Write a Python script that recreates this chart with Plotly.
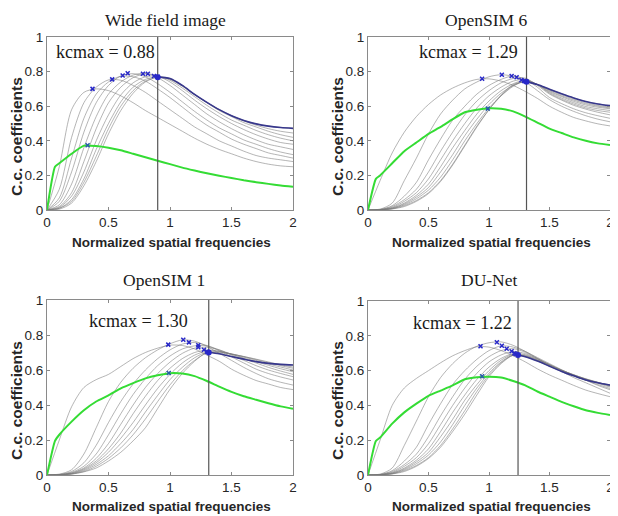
import plotly.graph_objects as go

# ---------------- data ----------------
freq = [0, 0.1, 0.2, 0.3, 0.4, 0.5, 0.6, 0.7, 0.8, 0.9, 1.0,
        1.1, 1.2, 1.3, 1.4, 1.5, 1.6, 1.7, 1.8, 1.9, 2.0]
green_freq = [0, 0.065, 0.1, 0.2, 0.3, 0.4, 0.5, 0.6, 0.7, 0.8, 0.9, 1.0,
              1.1, 1.2, 1.3, 1.4, 1.5, 1.6, 1.7, 1.8, 1.9, 2.0]

panel_titles = ["Wide field image", "OpenSIM 6", "OpenSIM 1", "DU-Net"]
kcmax_labels = ["0.88", "1.29", "1.30", "1.22"]
kcmax_line = [0.90, 1.31, 1.315, 1.24]
x_ticks = ["0", "0.5", "1", "1.5", "2"]
y_ticks = ["0", "0.2", "0.4", "0.6", "0.8", "1"]

wide_gray = [
    [0, 0.25, 0.58, 0.68, 0.70, 0.69, 0.66, 0.62, 0.575, 0.535, 0.495, 0.455, 0.415, 0.38, 0.35, 0.325, 0.30, 0.28, 0.265, 0.255, 0.25],
    [0, 0.12, 0.42, 0.62, 0.71, 0.752, 0.75, 0.72, 0.68, 0.63, 0.58, 0.53, 0.48, 0.44, 0.40, 0.37, 0.34, 0.315, 0.30, 0.29, 0.28],
    [0, 0.07, 0.30, 0.53, 0.67, 0.74, 0.773, 0.77, 0.745, 0.70, 0.65, 0.595, 0.54, 0.49, 0.45, 0.41, 0.38, 0.355, 0.33, 0.315, 0.30],
    [0, 0.05, 0.22, 0.45, 0.62, 0.72, 0.775, 0.788, 0.77, 0.73, 0.68, 0.625, 0.57, 0.52, 0.475, 0.44, 0.405, 0.38, 0.355, 0.335, 0.32],
    [0, 0.03, 0.15, 0.36, 0.54, 0.67, 0.74, 0.78, 0.79, 0.765, 0.72, 0.665, 0.61, 0.555, 0.51, 0.47, 0.435, 0.405, 0.38, 0.365, 0.35],
    [0, 0.02, 0.10, 0.28, 0.47, 0.62, 0.71, 0.765, 0.788, 0.775, 0.74, 0.69, 0.635, 0.585, 0.54, 0.50, 0.465, 0.435, 0.41, 0.39, 0.38],
    [0, 0.015, 0.08, 0.22, 0.40, 0.55, 0.665, 0.735, 0.77, 0.773, 0.75, 0.705, 0.655, 0.605, 0.56, 0.52, 0.49, 0.46, 0.435, 0.415, 0.40],
    [0, 0.01, 0.06, 0.18, 0.35, 0.50, 0.625, 0.71, 0.755, 0.77, 0.755, 0.715, 0.665, 0.62, 0.575, 0.54, 0.505, 0.48, 0.455, 0.435, 0.42],
    [0, 0.01, 0.05, 0.16, 0.31, 0.47, 0.60, 0.69, 0.745, 0.768, 0.758, 0.72, 0.668, 0.622, 0.58, 0.545, 0.515, 0.49, 0.47, 0.455, 0.445],
    [0, 0.005, 0.04, 0.14, 0.28, 0.44, 0.575, 0.675, 0.74, 0.768, 0.76, 0.72, 0.668, 0.622, 0.58, 0.545, 0.518, 0.498, 0.485, 0.477, 0.472],
]
wide_green = [0, 0.25, 0.27, 0.325, 0.372, 0.37, 0.36, 0.345, 0.325, 0.305, 0.285, 0.265,
              0.245, 0.228, 0.212, 0.198, 0.185, 0.172, 0.161, 0.151, 0.142, 0.135]
wide_peak_f = [0.37, 0.53, 0.615, 0.656, 0.78, 0.82, 0.87, 0.90]
wide_peak_v = [0.70, 0.755, 0.778, 0.79, 0.788, 0.788, 0.775, 0.77]
wide_green_peak = [0.33, 0.374]
wide_dot = [0.90, 0.768]

os6_gray = [
    [0, 0.17, 0.33, 0.45, 0.54, 0.61, 0.665, 0.705, 0.735, 0.755, 0.758, 0.745, 0.72, 0.685, 0.645, 0.60, 0.565, 0.535, 0.515, 0.498, 0.486],
    [0, 0.005, 0.04, 0.17, 0.30, 0.44, 0.555, 0.635, 0.70, 0.74, 0.77, 0.782, 0.772, 0.74, 0.69, 0.638, 0.60, 0.57, 0.545, 0.525, 0.51],
    [0, 0.003, 0.025, 0.08, 0.16, 0.29, 0.41, 0.52, 0.60, 0.67, 0.72, 0.755, 0.775, 0.755, 0.71, 0.65, 0.615, 0.585, 0.562, 0.545, 0.53],
    [0, 0.002, 0.02, 0.06, 0.12, 0.22, 0.34, 0.45, 0.55, 0.63, 0.69, 0.735, 0.76, 0.762, 0.72, 0.67, 0.635, 0.605, 0.583, 0.565, 0.55],
    [0, 0.002, 0.015, 0.05, 0.10, 0.18, 0.29, 0.40, 0.50, 0.59, 0.66, 0.71, 0.745, 0.755, 0.725, 0.675, 0.64, 0.612, 0.59, 0.575, 0.565],
    [0, 0.001, 0.012, 0.04, 0.085, 0.15, 0.25, 0.36, 0.46, 0.555, 0.63, 0.69, 0.73, 0.75, 0.725, 0.68, 0.647, 0.62, 0.598, 0.585, 0.575],
    [0, 0.001, 0.01, 0.035, 0.075, 0.13, 0.22, 0.32, 0.43, 0.525, 0.61, 0.675, 0.72, 0.745, 0.725, 0.685, 0.655, 0.628, 0.607, 0.594, 0.585],
    [0, 0.001, 0.008, 0.03, 0.065, 0.115, 0.19, 0.29, 0.40, 0.50, 0.59, 0.66, 0.715, 0.744, 0.725, 0.69, 0.66, 0.635, 0.614, 0.60, 0.59],
    [0, 0.001, 0.007, 0.025, 0.055, 0.10, 0.17, 0.265, 0.375, 0.485, 0.58, 0.66, 0.72, 0.743, 0.725, 0.694, 0.666, 0.641, 0.62, 0.605, 0.595],
    [0, 0.001, 0.006, 0.02, 0.05, 0.095, 0.165, 0.26, 0.37, 0.48, 0.58, 0.665, 0.725, 0.742, 0.725, 0.698, 0.672, 0.648, 0.627, 0.613, 0.603],
]
os6_green = [0, 0.18, 0.2, 0.27, 0.34, 0.39, 0.44, 0.48, 0.525, 0.565, 0.58, 0.588,
             0.585, 0.57, 0.54, 0.505, 0.47, 0.445, 0.42, 0.40, 0.385, 0.375]
os6_peak_f = [0.943, 1.106, 1.187, 1.228, 1.268, 1.29, 1.30]
os6_peak_v = [0.759, 0.782, 0.775, 0.767, 0.751, 0.746, 0.744]
os6_green_peak = [0.99, 0.586]
os6_dot = [1.31, 0.742]

os1_gray = [
    [0, 0.2, 0.39, 0.5, 0.545, 0.575, 0.62, 0.665, 0.70, 0.725, 0.742, 0.74, 0.72, 0.685, 0.65, 0.605, 0.57, 0.54, 0.52, 0.50, 0.488],
    [0, 0.005, 0.03, 0.12, 0.27, 0.42, 0.53, 0.61, 0.67, 0.715, 0.75, 0.772, 0.765, 0.735, 0.695, 0.655, 0.615, 0.58, 0.55, 0.53, 0.514],
    [0, 0.003, 0.02, 0.07, 0.17, 0.30, 0.42, 0.52, 0.60, 0.665, 0.715, 0.748, 0.757, 0.74, 0.71, 0.675, 0.64, 0.605, 0.58, 0.56, 0.543],
    [0, 0.002, 0.015, 0.05, 0.12, 0.23, 0.35, 0.46, 0.55, 0.625, 0.68, 0.72, 0.738, 0.738, 0.715, 0.685, 0.655, 0.625, 0.60, 0.58, 0.562],
    [0, 0.002, 0.012, 0.04, 0.095, 0.18, 0.29, 0.40, 0.50, 0.58, 0.645, 0.695, 0.725, 0.73, 0.715, 0.69, 0.665, 0.64, 0.615, 0.594, 0.575],
    [0, 0.001, 0.01, 0.035, 0.08, 0.15, 0.24, 0.35, 0.45, 0.54, 0.61, 0.665, 0.70, 0.714, 0.708, 0.69, 0.67, 0.648, 0.627, 0.607, 0.59],
    [0, 0.001, 0.008, 0.03, 0.07, 0.13, 0.21, 0.30, 0.40, 0.495, 0.575, 0.64, 0.685, 0.708, 0.706, 0.692, 0.675, 0.655, 0.635, 0.617, 0.60],
    [0, 0.001, 0.007, 0.025, 0.06, 0.11, 0.18, 0.26, 0.36, 0.455, 0.545, 0.615, 0.67, 0.702, 0.703, 0.692, 0.677, 0.66, 0.642, 0.625, 0.61],
    [0, 0.001, 0.006, 0.02, 0.05, 0.095, 0.155, 0.23, 0.32, 0.42, 0.515, 0.595, 0.655, 0.697, 0.70, 0.69, 0.677, 0.662, 0.646, 0.63, 0.617],
    [0, 0.001, 0.005, 0.018, 0.04, 0.08, 0.13, 0.195, 0.27, 0.38, 0.49, 0.58, 0.65, 0.70, 0.693, 0.677, 0.662, 0.648, 0.638, 0.632, 0.629],
]
os1_green = [0, 0.195, 0.23, 0.305, 0.37, 0.42, 0.455, 0.495, 0.525, 0.552, 0.57, 0.582,
             0.58, 0.565, 0.537, 0.505, 0.475, 0.45, 0.43, 0.41, 0.392, 0.378]
os1_peak_f = [0.986, 1.108, 1.154, 1.23, 1.23, 1.276, 1.30]
os1_peak_v = [0.745, 0.773, 0.758, 0.741, 0.73, 0.716, 0.705]
os1_green_peak = [0.99, 0.583]
os1_dot = [1.315, 0.70]

dun_gray = [
    [0, 0.2, 0.40, 0.50, 0.555, 0.60, 0.645, 0.685, 0.715, 0.737, 0.735, 0.715, 0.685, 0.65, 0.61, 0.575, 0.545, 0.515, 0.488, 0.468, 0.45],
    [0, 0.005, 0.04, 0.17, 0.31, 0.45, 0.56, 0.64, 0.70, 0.74, 0.76, 0.765, 0.745, 0.71, 0.67, 0.63, 0.595, 0.56, 0.53, 0.50, 0.47],
    [0, 0.003, 0.025, 0.08, 0.16, 0.29, 0.41, 0.52, 0.60, 0.665, 0.715, 0.742, 0.735, 0.71, 0.675, 0.64, 0.605, 0.572, 0.545, 0.515, 0.49],
    [0, 0.002, 0.02, 0.06, 0.12, 0.22, 0.34, 0.45, 0.55, 0.625, 0.68, 0.715, 0.726, 0.705, 0.67, 0.635, 0.60, 0.57, 0.545, 0.52, 0.497],
    [0, 0.002, 0.015, 0.05, 0.10, 0.18, 0.29, 0.40, 0.50, 0.585, 0.65, 0.69, 0.71, 0.698, 0.668, 0.635, 0.603, 0.575, 0.55, 0.527, 0.505],
    [0, 0.001, 0.012, 0.04, 0.085, 0.15, 0.25, 0.36, 0.46, 0.55, 0.62, 0.67, 0.698, 0.692, 0.665, 0.633, 0.603, 0.576, 0.552, 0.531, 0.51],
    [0, 0.001, 0.01, 0.035, 0.075, 0.13, 0.22, 0.32, 0.43, 0.52, 0.60, 0.66, 0.694, 0.688, 0.662, 0.631, 0.602, 0.576, 0.553, 0.533, 0.513],
    [0, 0.001, 0.008, 0.03, 0.065, 0.115, 0.19, 0.29, 0.40, 0.50, 0.585, 0.65, 0.69, 0.685, 0.66, 0.629, 0.60, 0.574, 0.551, 0.532, 0.514],
    [0, 0.001, 0.007, 0.025, 0.055, 0.10, 0.17, 0.265, 0.37, 0.48, 0.575, 0.645, 0.689, 0.683, 0.658, 0.627, 0.598, 0.572, 0.549, 0.531, 0.515],
    [0, 0.001, 0.006, 0.02, 0.05, 0.095, 0.16, 0.25, 0.35, 0.46, 0.565, 0.64, 0.688, 0.68, 0.655, 0.625, 0.595, 0.57, 0.546, 0.53, 0.517],
]
dun_green = [0, 0.195, 0.215, 0.295, 0.36, 0.41, 0.455, 0.485, 0.515, 0.55, 0.562, 0.565,
             0.56, 0.54, 0.515, 0.48, 0.45, 0.42, 0.395, 0.372, 0.357, 0.345]
dun_peak_f = [0.93, 1.065, 1.106, 1.146, 1.187, 1.21, 1.22]
dun_peak_v = [0.74, 0.763, 0.743, 0.726, 0.711, 0.70, 0.695]
dun_green_peak = [0.943, 0.567]
dun_dot = [1.24, 0.69]

panels = [
    (wide_gray, wide_green, wide_peak_f, wide_peak_v, wide_green_peak, wide_dot),
    (os6_gray, os6_green, os6_peak_f, os6_peak_v, os6_green_peak, os6_dot),
    (os1_gray, os1_green, os1_peak_f, os1_peak_v, os1_green_peak, os1_dot),
    (dun_gray, dun_green, dun_peak_f, dun_peak_v, dun_green_peak, dun_dot),
]

# ---------------- layout geometry ----------------
# The page body adds an 8 px offset, so the figure is drawn 8 px smaller and
# all window-pixel positions below are shifted by OFF.
OFF = 8
W, H = 618 - OFF, 516 - OFF
boxes = [(47, 293, 37, 210), (368, 610, 37, 210), (47, 293, 300, 475), (368, 610, 301, 475)]
title_top = [8.5, 8.5, 269, 269]
title_x = [165, 486, 164, 490]
xlab_xy = [(171, 242), (491, 242), (171, 506), (491, 506)]
ylab_xy = [(16, 137), (337, 137), (16, 401), (337, 401)]
text_pos = [(0.065, 0.913), (0.415, 0.913), (0.33, 0.88), (0.36, 0.874)]


def px(x):
    return (x - OFF) / W


def py(y):
    return 1 - (y - OFF) / H


AX = "#8a8a8a"
TXT = "#262626"
GRAY = "rgba(120,120,120,0.55)"
GREEN = "rgb(52,220,52)"
NAVY = "rgb(55,55,140)"
BLUE = "rgb(40,40,200)"
SANS = "Liberation Sans, Arial, sans-serif"
SERIF = "Liberation Serif, Times New Roman, serif"

fig = go.Figure()
layout = dict(width=W, height=H, margin=dict(l=0, r=0, t=0, b=0, autoexpand=False),
              paper_bgcolor="white", plot_bgcolor="white", showlegend=False,
              font=dict(family=SANS, color=TXT))
annotations = []

for i, (gray, green, pf, pv, gp, dot) in enumerate(panels):
    n = i + 1
    xa, ya = (f"x{n}", f"y{n}") if n > 1 else ("x", "y")
    x0, x1, y0, y1 = boxes[i]
    common = dict(showline=True, linecolor=AX, linewidth=1, mirror="ticks",
                  ticks="inside", ticklen=3, tickcolor=AX, showgrid=False,
                  zeroline=False, automargin=False,
                  tickfont=dict(family=SANS, size=13.5, color=TXT))
    layout[f"xaxis{n}" if n > 1 else "xaxis"] = dict(
        common, domain=[px(x0), px(x1)], anchor=ya, range=[0, 2],
        tickvals=[0, 0.5, 1, 1.5, 2], ticktext=x_ticks)
    layout[f"yaxis{n}" if n > 1 else "yaxis"] = dict(
        common, domain=[py(y1), py(y0)], anchor=xa, range=[0, 1],
        tickvals=[0, 0.2, 0.4, 0.6, 0.8, 1], ticktext=y_ticks)

    for curve in gray:
        fig.add_trace(go.Scatter(x=freq, y=curve, mode="lines", xaxis=xa, yaxis=ya,
                                 line=dict(color=GRAY, width=1, shape="spline", smoothing=0.8),
                                 hoverinfo="skip"))
    # highlighted tail of the last curve beyond kcmax
    last = gray[-1]
    tx = [dot[0]] + [f for f in freq if f > dot[0]]
    ty = [dot[1]] + [v for f, v in zip(freq, last) if f > dot[0]]
    fig.add_trace(go.Scatter(x=tx, y=ty, mode="lines", xaxis=xa, yaxis=ya,
                             line=dict(color=NAVY, width=1.6, shape="spline", smoothing=0.8)))
    fig.add_trace(go.Scatter(x=green_freq, y=green, mode="lines", xaxis=xa, yaxis=ya,
                             line=dict(color=GREEN, width=2, shape="spline", smoothing=0.5)))
    kc = kcmax_line[i]
    fig.add_trace(go.Scatter(x=[kc, kc], y=[0, 1], mode="lines", xaxis=xa, yaxis=ya,
                             line=dict(color="#555555", width=1.2)))
    fig.add_trace(go.Scatter(x=pf, y=pv, mode="markers", xaxis=xa, yaxis=ya,
                             marker=dict(symbol="x-thin", size=4, color=BLUE,
                                         line=dict(width=1.5, color=BLUE))))
    fig.add_trace(go.Scatter(x=[gp[0]], y=[gp[1]], mode="markers", xaxis=xa, yaxis=ya,
                             marker=dict(symbol="x-thin", size=4, color="rgb(40,90,170)",
                                         line=dict(width=1.5, color="rgb(40,90,170)"))))
    fig.add_trace(go.Scatter(x=[dot[0]], y=[dot[1]], mode="markers", xaxis=xa, yaxis=ya,
                             marker=dict(symbol="circle", size=6, color=BLUE)))

    annotations.append(dict(text=panel_titles[i], xref="paper", yref="paper",
                            x=px(title_x[i]), y=py(title_top[i]),
                            xanchor="center", yanchor="top", showarrow=False, borderpad=0,
                            font=dict(family=SERIF, size=17.5, color="#1a1a1a")))
    annotations.append(dict(text="Normalized spatial frequencies", xref="paper", yref="paper",
                            x=px(xlab_xy[i][0]), y=py(xlab_xy[i][1]),
                            xanchor="center", yanchor="middle", showarrow=False,
                            font=dict(family=SANS, size=13.5, color=TXT, weight="bold")))
    annotations.append(dict(text="C.c. coefficients", xref="paper", yref="paper",
                            x=px(ylab_xy[i][0]), y=py(ylab_xy[i][1]), textangle=-90,
                            xanchor="center", yanchor="middle", showarrow=False,
                            font=dict(family=SANS, size=15.5, color=TXT, weight="bold")))
    annotations.append(dict(text=f"kcmax = {kcmax_labels[i]}", xref=xa, yref=ya,
                            x=text_pos[i][0], y=text_pos[i][1], xanchor="left", yanchor="middle",
                            showarrow=False, borderpad=0,
                            font=dict(family=SERIF, size=18, color="#1a1a1a")))

layout["annotations"] = annotations
fig.update_layout(**layout)
fig.write_html("out.html")
